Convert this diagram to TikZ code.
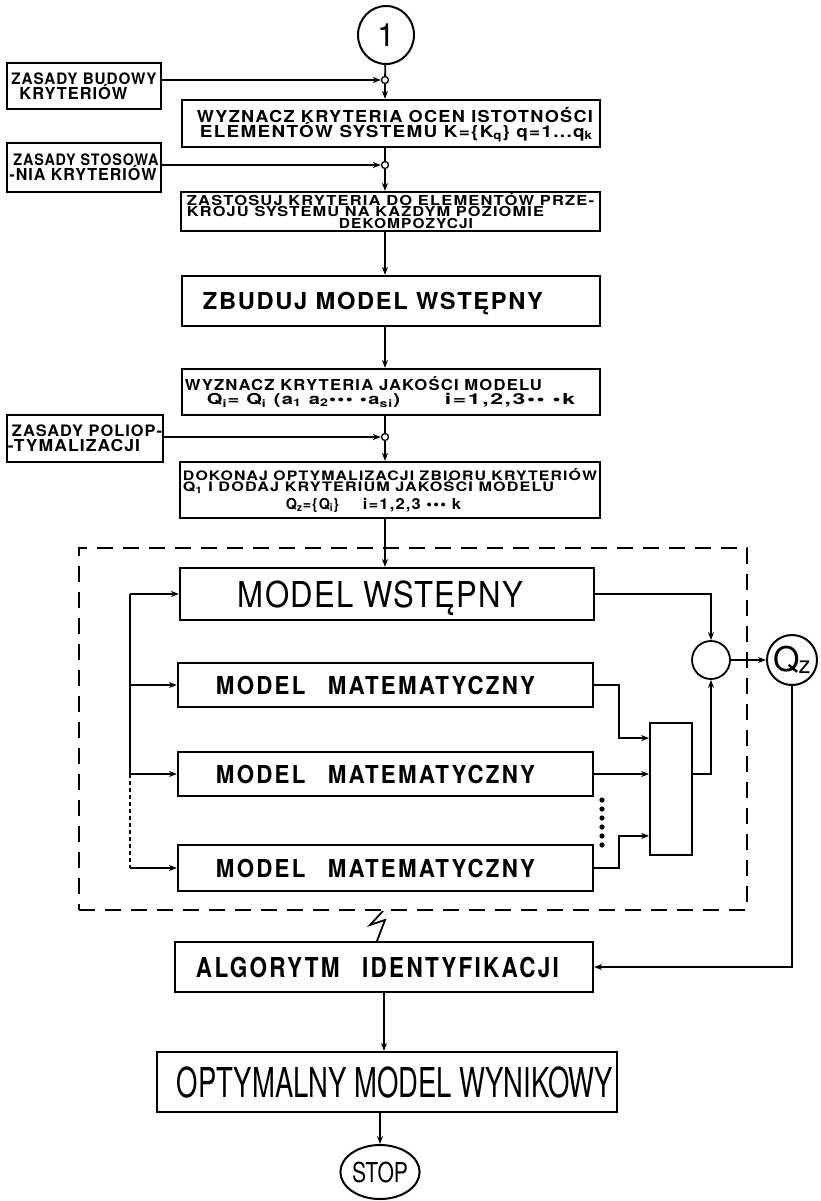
\documentclass[tikz,border=0pt]{standalone}
\usepackage{fontspec}
\setmainfont{TeX Gyre Heros}
\usepackage{graphicx}
\usepackage{tikz}
\usetikzlibrary{
  arrows.meta,
  positioning,
  calc,
  shapes.geometric,
}

% one line of lettering, stretched to a given width and cap height
\newcommand{\lettering}[3]{\resizebox{#1}{#2}{\raisebox{0pt}[\fontcharht\font`X][0pt]{#3}}}

\begin{document}
\begin{tikzpicture}[
  x=1pt, y=-1pt,
  font=\fontsize{10}{12}\selectfont,
  box/.style={draw, line width=2.2pt, inner sep=0pt, align=center},
  smallbox/.style={box, align=left, font=\bfseries\fontsize{10}{15}\selectfont\addfontfeature{LetterSpace=6}},
  spaced/.style={font=\bfseries\fontsize{10}{#1}\selectfont\addfontfeature{LetterSpace=7}},
  wide/.style={font=\fontsize{10}{12}\selectfont\addfontfeature{LetterSpace=#1}},
  widebold/.style={font=\bfseries\fontsize{10}{12}\selectfont\addfontfeature{LetterSpace=#1}},
  conn/.style={line width=1.8pt},
  arr/.style={conn, -{Stealth[length=8pt, width=6pt]}},
  joint/.style={draw, circle, line width=1.3pt, minimum size=7pt, inner sep=0pt},
  groupbox/.style={draw, line width=2pt, dash pattern=on 16pt off 10pt},
]

\useasboundingbox (0,0) rectangle (821,1201);
\fill[white] (0,0) rectangle (821,1201);

% start and the input rules
\node[draw, ellipse, line width=2pt, minimum width=56pt, minimum height=58pt, inner sep=0pt,
  font=\fontsize{32}{32}\selectfont] (start) at (386,35) {1};

\node[smallbox, minimum width=154pt, minimum height=46pt] (zb) at (84,86)
  {\lettering{145pt}{11.5pt}{ZASADY BUDOWY}\\
   \hspace*{8pt}\lettering{108pt}{12pt}{KRYTERIÓW}};
\node[smallbox, minimum width=154pt, minimum height=49pt] (zs) at (84,167.5)
  {\hspace*{4pt}\lettering{145pt}{11.5pt}{ZASADY STOSOWA}\\
   \lettering{147pt}{12pt}{-NIA KRYTERIÓW}};
\node[smallbox, minimum width=156pt, minimum height=47pt] (zp) at (85,438.5)
  {\hspace*{4pt}\lettering{150pt}{11.5pt}{ZASADY POLIOP-}\\
   \lettering{132pt}{12pt}{-TYMALIZACJI}};

\node[joint] (j1) at (385,80) {};
\node[joint] (j2) at (385,165) {};
\node[joint] (j3) at (385,437) {};

% main column
\node[box, align=left, minimum width=418pt, minimum height=47pt, spaced=15] (b1) at (391,123.5)
  {\hspace*{8pt}\lettering{396pt}{12pt}{WYZNACZ KRYTERIA OCEN ISTOTNOŚCI}\\
   \hspace*{11pt}\lettering{393pt}{12pt}{ELEMENTÓW SYSTEMU K=\{K\textsubscript{q}\} q=1...q\textsubscript{k}}};

\node[box, align=left, minimum width=419pt, minimum height=39pt, spaced=11.5] (b2) at (390.5,211.5)
  {\lettering{407pt}{10pt}{ZASTOSUJ KRYTERIA DO ELEMENTÓW PRZE-}\\
   \lettering{357pt}{10pt}{KROJU SYSTEMU NA KAŻDYM POZIOMIE}\\
   \hspace*{152pt}\lettering{134pt}{10pt}{DEKOMPOZYCJI}};

\node[box, minimum width=418pt, minimum height=50pt, spaced=12] (b3) at (391,301)
  {\lettering{340pt}{17pt}{ZBUDUJ MODEL WSTĘPNY}\hspace*{36pt}};

\node[box, align=left, minimum width=418pt, minimum height=46pt, spaced=14] (b4) at (391,392)
  {\lettering{357pt}{11pt}{WYZNACZ KRYTERIA JAKOŚCI MODELU}\\
   \hspace*{22pt}\lettering{193pt}{11pt}{Q\textsubscript{i}= Q\textsubscript{i} (a\textsubscript{1} a\textsubscript{2}\textbullet\textbullet\textbullet\ \textbullet a\textsubscript{si})}%
   \hspace*{45pt}\lettering{130pt}{11pt}{i=1,2,3\textbullet\textbullet\ \textbullet k}\hspace*{22pt}};

\node[box, align=left, minimum width=420pt, minimum height=56pt, spaced=11.5] (b5) at (390,490)
  {\lettering{414pt}{9.5pt}{DOKONAJ OPTYMALIZACJI ZBIORU KRYTERIÓW}\\
   \lettering{371pt}{9.5pt}{Q\textsubscript{1} I DODAJ KRYTERIUM JAKOŚCI MODELU}\\[6pt]
   \hspace*{103pt}\lettering{53pt}{11pt}{Q\textsubscript{z}=\{Q\textsubscript{i}\}}%
   \hspace*{24pt}\lettering{98pt}{11pt}{i=1,2,3 \textbullet\textbullet\textbullet\ k}};

% group of models
\node[groupbox, minimum width=668pt, minimum height=362pt, inner sep=0pt] (grp) at (413,729) {};

\node[box, minimum width=414pt, minimum height=52pt, wide=4] (mw) at (387,594)
  {\lettering{285pt}{26pt}{MODEL WSTĘPNY}\hspace*{13pt}};
\node[box, minimum width=415pt, minimum height=44pt, widebold=10] (mm1) at (385.5,685)
  {\lettering{319pt}{18pt}{MODEL\quad MATEMATYCZNY}\hspace*{20pt}};
\node[box, minimum width=415pt, minimum height=44pt, widebold=10] (mm2) at (385.5,774)
  {\lettering{319pt}{18pt}{MODEL\quad MATEMATYCZNY}\hspace*{20pt}};
\node[box, minimum width=415pt, minimum height=46pt, widebold=10] (mm3) at (385.5,868)
  {\lettering{319pt}{18pt}{MODEL\quad MATEMATYCZNY}\hspace*{20pt}};

\node[draw, line width=1.8pt, minimum width=42pt, minimum height=132pt, inner sep=0pt] (agg) at (671,789) {};
\node[draw, circle, line width=1.8pt, minimum size=38pt, inner sep=0pt] (sum) at (711,660) {};
\node[draw, circle, line width=2pt, minimum size=50pt, inner sep=0pt] (qz) at (792,660)
  {\fontsize{34}{34}\selectfont Q\kern-1pt\raisebox{-2pt}{\fontsize{24}{24}\selectfont z}};

\foreach \k in {0,...,5}{
  \fill (602,{800+9*\k}) circle (2.6pt);
}

% results
\node[box, minimum width=418pt, minimum height=50pt, widebold=10] (alg) at (384,967)
  {\lettering{363pt}{20pt}{ALGORYTM\quad IDENTYFIKACJI}\hspace*{13pt}};
\node[box, minimum width=460pt, minimum height=60pt] (opt) at (387,1082)
  {\hspace*{16pt}\lettering{436pt}{30pt}{OPTYMALNY MODEL WYNIKOWY}};
\node[draw, ellipse, line width=2pt, minimum width=62pt, minimum height=54pt, inner sep=0pt] (stop) at (380,1172)
  {\lettering{56pt}{20pt}{STOP}};

% connectors
\draw[conn] (start) -- (j1);
\draw[arr] (zb.east |- j1) -- (j1.west);
\draw[arr] (j1) -- (j1 |- b1.north);
\draw[conn] (b1.south -| j2) -- (j2);
\draw[arr] (zs.east |- j2) -- (j2.west);
\draw[arr] (j2) -- (j2 |- b2.north);
\draw[arr] (b2.south -| j2) -- (b3.north -| j2);
\draw[arr] (b3.south -| j2) -- (b4.north -| j2);
\draw[conn] (b4.south -| j3) -- (j3);
\draw[arr] (zp.east |- j3) -- (j3.west);
\draw[arr] (j3) -- (j3 |- b5.north);
\draw[arr] (b5.south -| j3) -- (mw.north -| j3);

\coordinate (bus) at (130,594);
\draw[arr] (bus) -- (mw.west);
\draw[arr] (bus |- mm1.west) -- (mm1.west);
\draw[arr] (bus |- mm2.west) -- (mm2.west);
\draw[arr] (bus |- mm3.west) -- (mm3.west);
\draw[conn] (bus) -- (bus |- mm2.west);
\draw[conn, dash pattern=on 4pt off 3pt] (bus |- mm2.west) -- (bus |- mm3.west);

\draw[arr] (mm1.east) -- ++(25,0) |- ([yshift=-16pt]agg.north west);
\draw[arr] (mm2.east) -- (mm2.east -| agg.west);
\draw[arr] (mm3.east) -- ++(25,0) |- ([yshift=20pt]agg.south west);
\draw[arr] (agg.east |- mm2.east) -| (sum.south);
\draw[arr] (mw.east) -| (sum.north);
\draw[arr] (sum) -- (qz);
\draw[arr] (qz.south) |- (alg.east);

\draw[conn] ([xshift=-30pt]grp.south) -- (370,925) -- (385,920) -- ([xshift=-7pt]alg.north);
\draw[arr] (alg.south) -- (opt.north -| alg.south);
\draw[arr] (opt.south -| stop.north) -- (stop.north);

\end{tikzpicture}
\end{document}
